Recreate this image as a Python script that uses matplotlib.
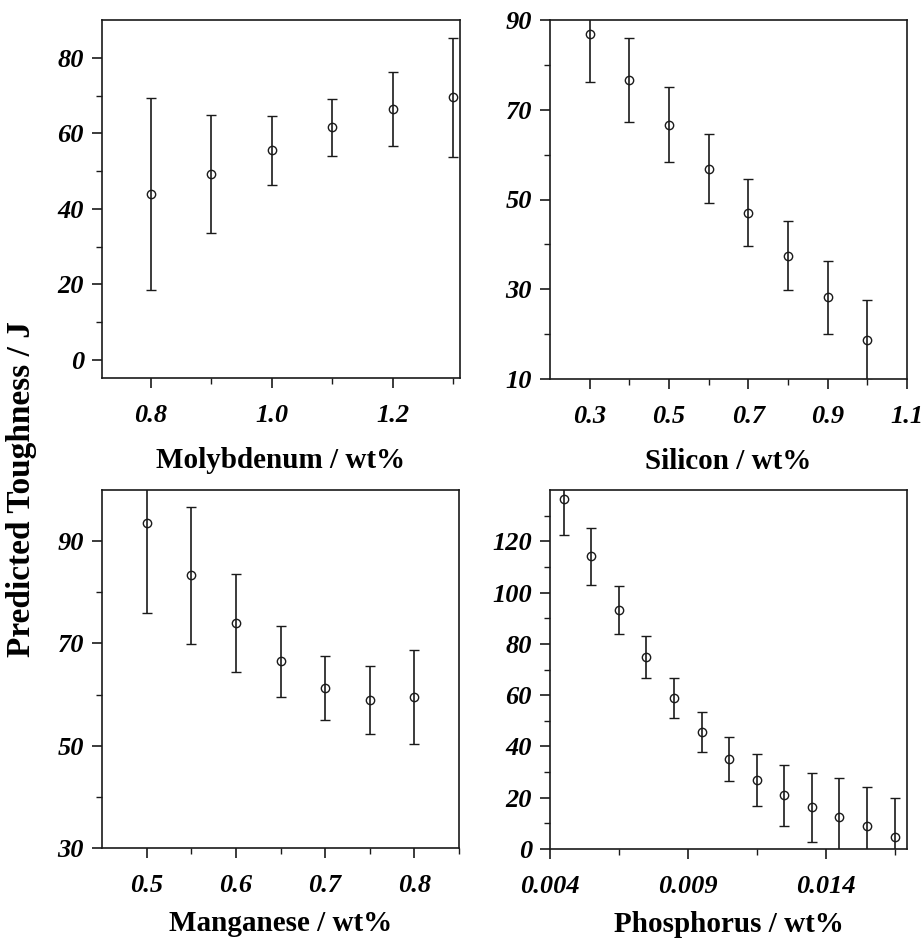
import matplotlib
matplotlib.use("Agg")
import matplotlib.pyplot as plt
from matplotlib.ticker import FixedLocator, FormatStrFormatter

plt.rcParams['font.family'] = ['Liberation Serif', 'DejaVu Serif']

# ---- data ----
mo_x = [0.8, 0.9, 1.0, 1.1, 1.2, 1.3]
mo_y = [43.9, 49.3, 55.5, 61.6, 66.4, 69.5]
mo_err = [25.4, 15.6, 9.2, 7.6, 9.8, 15.7]

si_x = [0.3, 0.4, 0.5, 0.6, 0.7, 0.8, 0.9, 1.0]
si_y = [86.8, 76.7, 66.7, 56.9, 47.1, 37.5, 28.2, 18.7]
si_err = [10.6, 9.4, 8.4, 7.7, 7.5, 7.6, 8.1, 9.0]

mn_x = [0.5, 0.55, 0.6, 0.65, 0.7, 0.75, 0.8]
mn_y = [93.5, 83.3, 74.0, 66.5, 61.3, 58.9, 59.5]
mn_err = [17.6, 13.4, 9.5, 7.0, 6.2, 6.6, 9.2]

p_x = [0.0045, 0.0055, 0.0065, 0.0075, 0.0085, 0.0095, 0.0105,
       0.0115, 0.0125, 0.0135, 0.0145, 0.0155, 0.0165]
p_y = [136.6, 114.1, 93.3, 74.8, 58.8, 45.8, 35.1, 26.9, 20.9, 16.3, 12.6, 9.0, 4.8]
p_err = [14.0, 11.2, 9.4, 8.2, 7.7, 7.8, 8.6, 10.0, 11.8, 13.5, 14.9, 15.3, 15.2]

ylabel_text = "Predicted Toughness / J"

W, H = 924, 942
fig = plt.figure(figsize=(W / 100, H / 100), dpi=100)

def rect(l, r, t, b):
    return [l / W, (H - b) / H, (r - l) / W, (b - t) / H]

panels = [
    dict(r=rect(102, 460, 20, 378), x=mo_x, y=mo_y, e=mo_err, xlim=(0.719, 1.311), ylim=(-4.8, 90),
         xmaj=[0.8, 1.0, 1.2], xmin=[0.9, 1.1, 1.3], ymaj=[0, 20, 40, 60, 80], ymin=[10, 30, 50, 70],
         xfmt='%.1f', yfmt='%d', xlabel='Molybdenum / wt%', lpad=14),
    dict(r=rect(550, 907, 20, 379), x=si_x, y=si_y, e=si_err, xlim=(0.2, 1.1), ylim=(10, 90),
         xmaj=[0.3, 0.5, 0.7, 0.9, 1.1], xmin=[0.4, 0.6, 0.8, 1.0], ymaj=[10, 30, 50, 70, 90], ymin=[20, 40, 60, 80],
         xfmt='%.1f', yfmt='%d', xlabel='Silicon / wt%', lpad=14),
    dict(r=rect(102, 459, 490, 848), x=mn_x, y=mn_y, e=mn_err, xlim=(0.45, 0.85), ylim=(30, 100),
         xmaj=[0.5, 0.6, 0.7, 0.8], xmin=[0.55, 0.65, 0.75, 0.85], ymaj=[30, 50, 70, 90], ymin=[40, 60, 80],
         xfmt='%.1f', yfmt='%d', xlabel='Manganese / wt%', lpad=9),
    dict(r=rect(550, 907, 490, 849), x=p_x, y=p_y, e=p_err, xlim=(0.004, 0.01695), ylim=(0, 140),
         xmaj=[0.004, 0.009, 0.014], xmin=[0.0065, 0.0115, 0.0165], ymaj=[0, 20, 40, 60, 80, 100, 120],
         ymin=[10, 30, 50, 70, 90, 110, 130],
         xfmt='%.3f', yfmt='%d', xlabel='Phosphorus / wt%', lpad=9),
]

for p in panels:
    ax = fig.add_axes(p['r'])
    ax.errorbar(p['x'], p['y'], yerr=p['e'], fmt='o', color='#1a1a1a', ecolor='#1a1a1a',
                markerfacecolor='none', markeredgecolor='#1a1a1a', markersize=6, markeredgewidth=1.0,
                elinewidth=1.2, capsize=3.5, capthick=1.2)
    ax.set_xlim(*p['xlim'])
    ax.set_ylim(*p['ylim'])
    ax.xaxis.set_major_locator(FixedLocator(p['xmaj']))
    ax.xaxis.set_minor_locator(FixedLocator(p['xmin']))
    ax.yaxis.set_major_locator(FixedLocator(p['ymaj']))
    ax.yaxis.set_minor_locator(FixedLocator(p['ymin']))
    ax.xaxis.set_major_formatter(FormatStrFormatter(p['xfmt']))
    ax.yaxis.set_major_formatter(FormatStrFormatter(p['yfmt']))
    ax.tick_params(which='major', direction='out', length=7, width=1.2, color='#1a1a1a')
    ax.tick_params(which='minor', direction='out', length=4.5, width=1.0, color='#1a1a1a')
    ax.tick_params(axis='x', which='major', pad=12)
    ax.tick_params(axis='y', which='major', pad=6)
    for lab in ax.get_xticklabels() + ax.get_yticklabels():
        lab.set_fontsize(19)
        lab.set_fontweight('bold')
        lab.set_fontstyle('italic')
    for s in ax.spines.values():
        s.set_linewidth(1.2)
        s.set_color('#1a1a1a')
    ax.set_xlabel(p['xlabel'], fontsize=21, fontweight='bold', labelpad=p['lpad'])

fig.text(22 / W, 1 - 489 / H, ylabel_text, rotation=90, ha='center', va='center',
         fontsize=24, fontweight='bold')

fig.savefig('out.png', dpi=100)
